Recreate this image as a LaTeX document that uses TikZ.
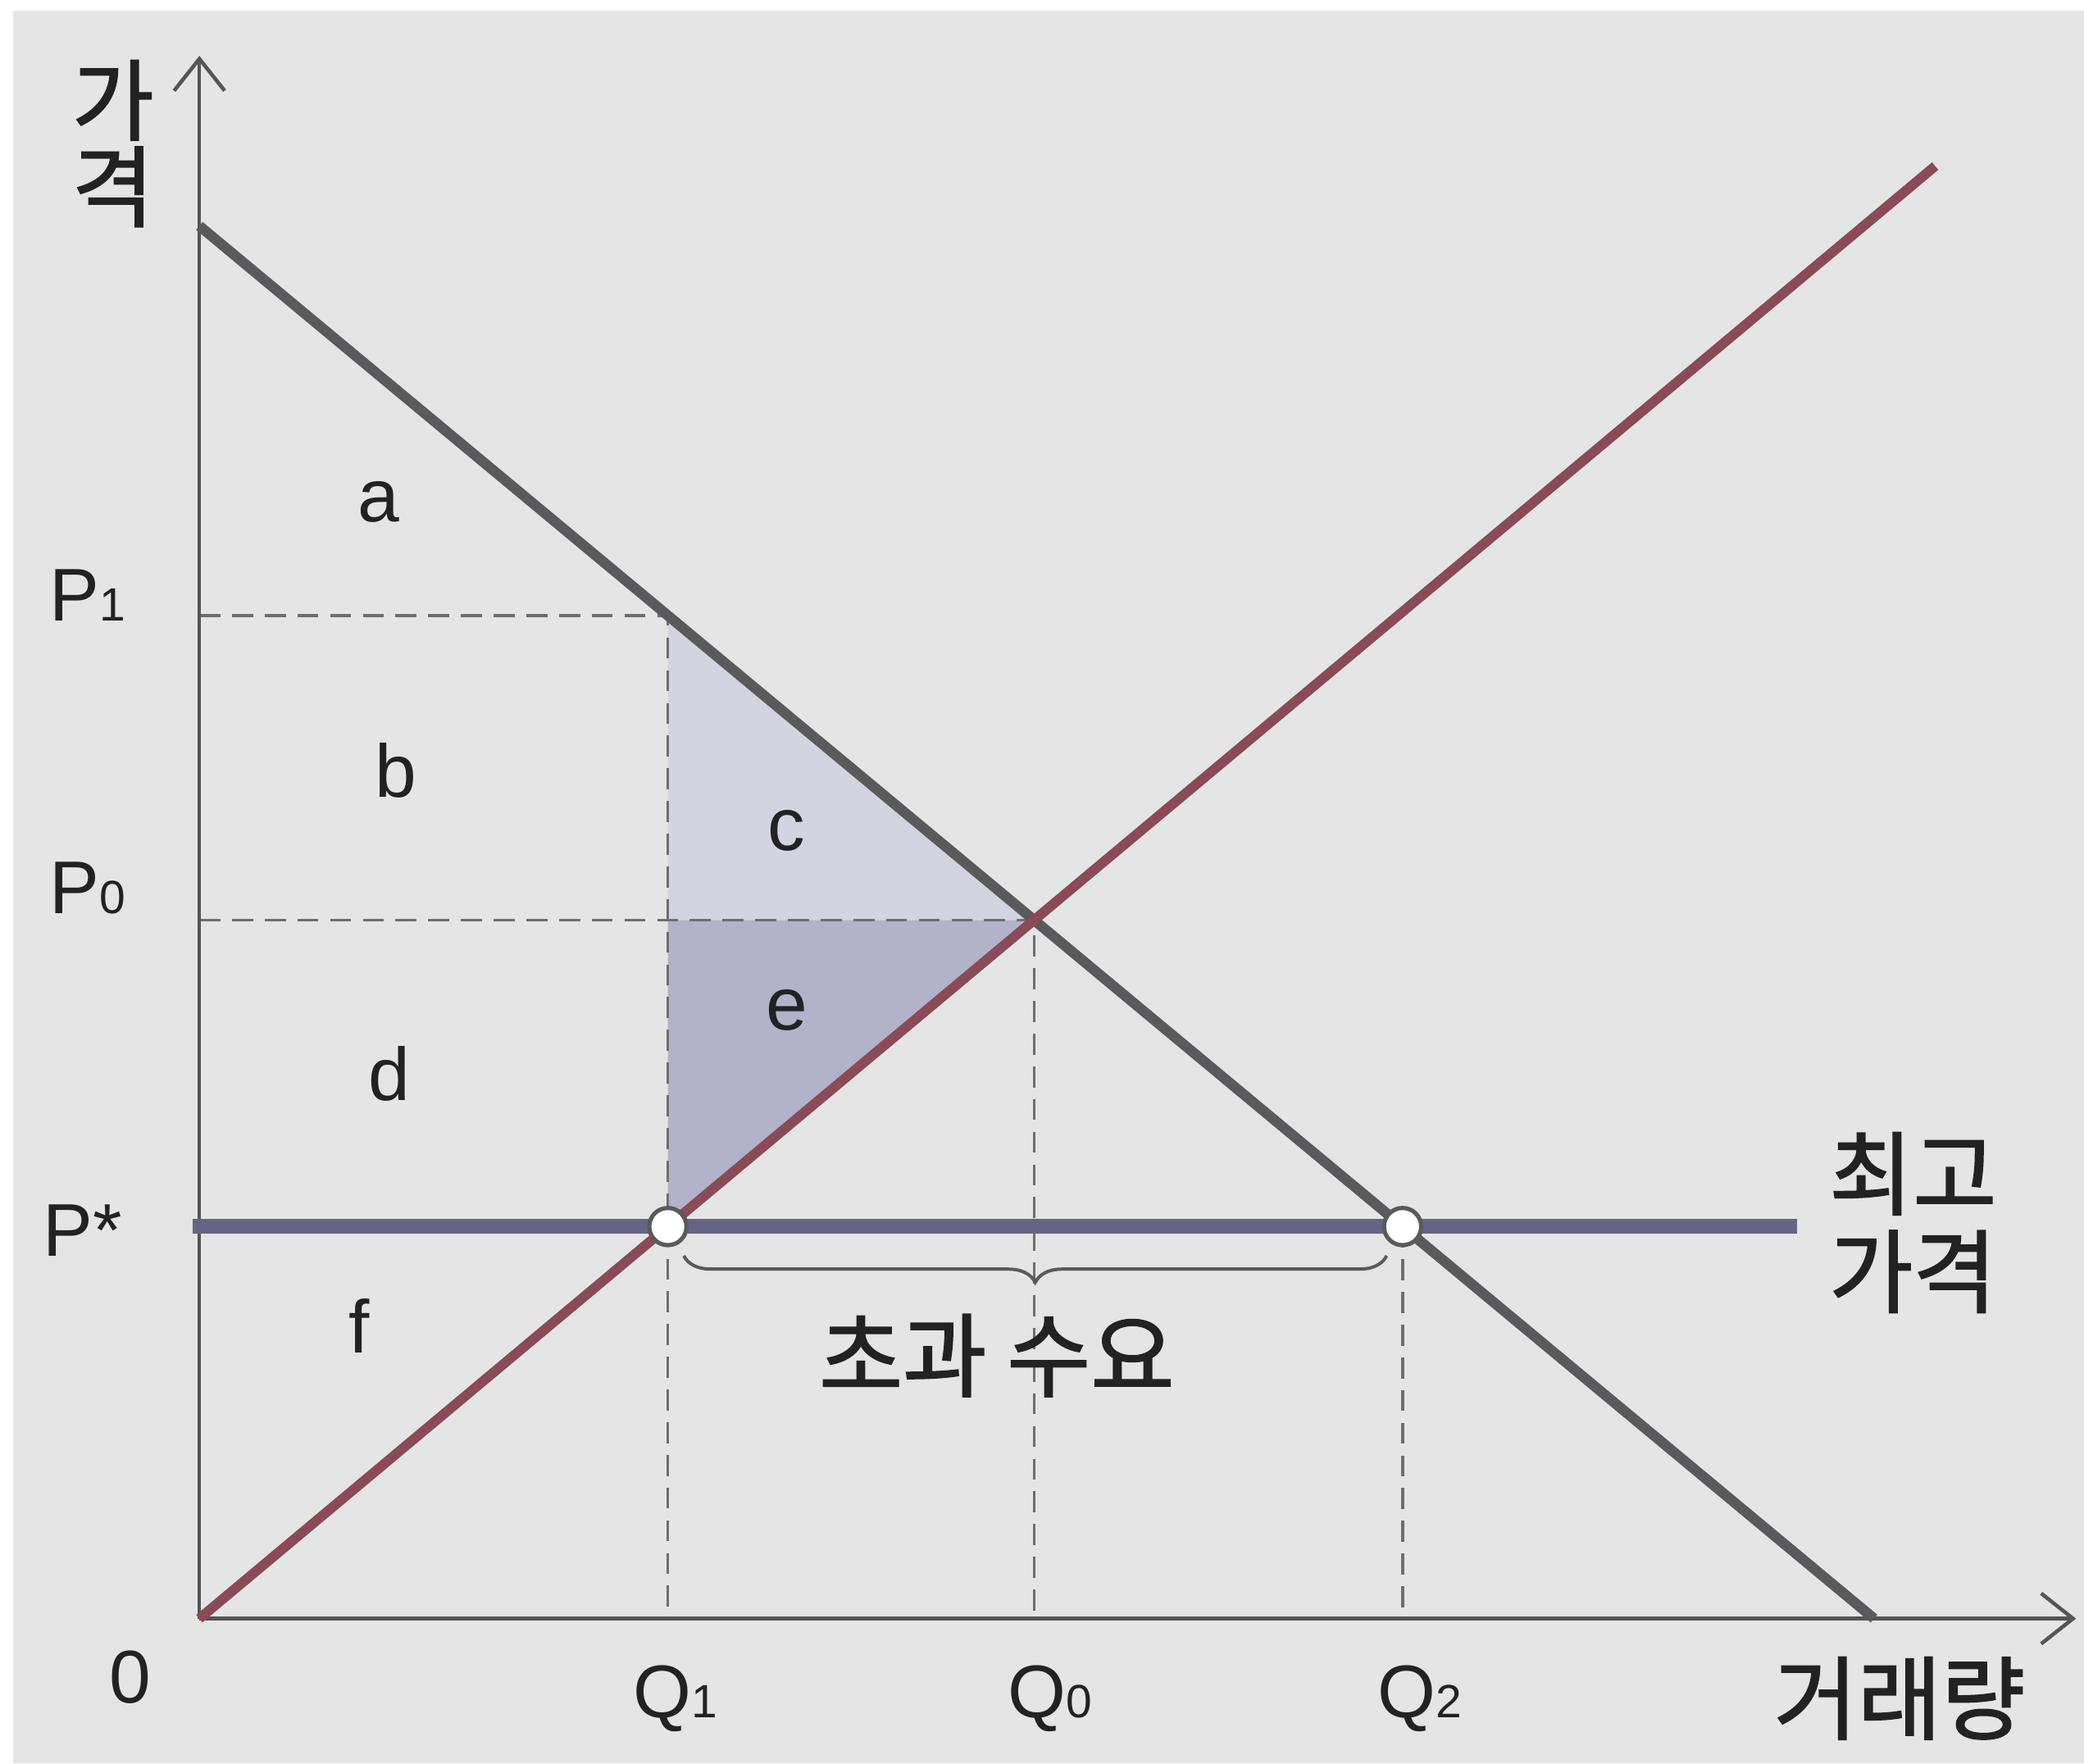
\documentclass[tikz,border=0pt]{standalone}
\usepackage{fontspec}
\setmainfont{Liberation Sans}
\newfontfamily\krfont[FakeBold=1.6]{Noto Sans CJK KR}
\usetikzlibrary{arrows.meta,positioning,calc,decorations.pathreplacing}
\definecolor{bgcol}{RGB}{229,229,229}
\definecolor{axiscol}{RGB}{85,85,85}
\definecolor{demcol}{RGB}{90,90,92}
\definecolor{supcol}{RGB}{138,74,88}
\definecolor{ceilcol}{RGB}{102,100,134}
\definecolor{lossc}{RGB}{212,212,224}
\definecolor{losse}{RGB}{178,178,202}
\definecolor{txtcol}{RGB}{34,34,34}
\definecolor{dashcol}{RGB}{110,110,110}
\newcommand{\lowsub}[1]{{\fontsize{10}{10}\selectfont #1}}
\tikzset{
    axis/.style={draw=axiscol,line width=0.8pt,-{Straight Barb[length=2.4mm,width=3.8mm,line width=0.8pt]}},
    guide/.style={draw=dashcol,line width=0.6pt,dash pattern=on 4.5pt off 2.5pt},
    demand/.style={draw=demcol,line width=2.2pt},
    supply/.style={draw=supcol,line width=2.1pt},
    ceiling/.style={draw=ceilcol,line width=3.2pt},
    dot/.style={draw=demcol,fill=white,circle,inner sep=0pt,outer sep=0pt,minimum size=2.8mm,line width=0.9pt},
    lbl/.style={text=txtcol,font=\fontsize{16}{19}\selectfont,inner sep=1pt},
    krlbl/.style={text=txtcol,font=\krfont\fontsize{19.5}{21}\selectfont,inner sep=1pt,align=center},
    brc/.style={draw=demcol,line width=0.7pt,decorate,decoration={brace,mirror,amplitude=2mm}},
}
\begin{document}
\begin{tikzpicture}
    \useasboundingbox (-1.50,-1.09) rectangle (14.18,12.18);
    \fill[white] (-1.50,-1.09) rectangle (14.18,12.18);
    \fill[bgcol] (-1.40,-1.09) rectangle (14.18,12.10);

    % key points
    \coordinate (O) at (0,0);
    \coordinate (ytip) at (0,11.76);
    \coordinate (xtip) at (14.12,0);
    \coordinate (dtop) at (0,10.48);
    \coordinate (dbot) at (12.60,0);
    \coordinate (stop) at (13.06,10.93);
    \coordinate (E) at (6.280,5.256);
    \coordinate (A) at (3.525,7.548);
    \coordinate (D) at (3.525,5.256);
    \coordinate (B) at (3.525,2.95);
    \coordinate (C) at (9.053,2.95);
    \coordinate (P1) at (O|-A);
    \coordinate (P0) at (O|-E);
    \coordinate (cstart) at (-0.05,2.95);
    \coordinate (cend) at (12.02,2.95);

    % deadweight areas
    \fill[lossc] (A) -- (D) -- (E) -- cycle;
    \fill[losse] (D) -- (B) -- (E) -- cycle;

    \draw[guide] (P1) -- (A) -- (A|-O);
    \draw[guide] (P0) -- (E) -- (E|-O);
    \draw[guide] (C) -- (C|-O);

    \draw[axis] (O) -- (ytip);
    \draw[axis] (O) -- (xtip);

    \draw[demand] (dtop) -- (dbot);
    \draw[supply] (O) -- (stop);
    \draw[ceiling] (cstart) -- (cend);

    \node[dot] (d1) at (B) {};
    \node[dot] (d2) at (C) {};
    \draw[brc] ($(B)+(0.12,-0.22)$) -- ($(C)+(-0.12,-0.22)$);

    % labels
    \node[krlbl,font=\krfont\fontsize{19}{18.5}\selectfont] (ylab) at (-0.65,11.10) {가\\격};
    \node[krlbl,anchor=east] (xlab) at (13.78,-0.60) {거래량};
    \node[krlbl,align=left,anchor=west] (clab) at (12.22,2.98) {최고\\가격};
    \node[krlbl] (exlab) at (6.00,1.98) {초과 수요};

    \node[lbl] (zero) at (-0.52,-0.44) {0};
    \node[lbl] (q1) at (3.58,-0.60) {Q\lowsub{1}};
    \node[lbl] (q0) at (6.40,-0.60) {Q\lowsub{0}};
    \node[lbl] (q2) at (9.18,-0.60) {Q\lowsub{2}};
    \node[lbl] (p1) at (-0.84,7.70) {P\lowsub{1}};
    \node[lbl] (p0) at (-0.84,5.50) {P\lowsub{0}};
    \node[lbl] (ps) at (-0.88,2.92) {P*};

    \node[lbl] (la) at (1.35,8.40) {a};
    \node[lbl] (lb) at (1.48,6.38) {b};
    \node[lbl] (lc) at (4.42,5.93) {c};
    \node[lbl] (ld) at (1.43,4.10) {d};
    \node[lbl] (le) at (4.42,4.58) {e};
    \node[lbl] (lf) at (1.20,2.20) {f};
\end{tikzpicture}
\end{document}
